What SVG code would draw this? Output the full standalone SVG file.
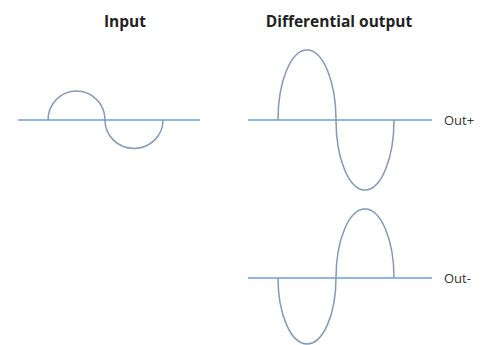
<svg xmlns="http://www.w3.org/2000/svg" width="493" height="345" viewBox="0 0 493 345">
<style>
.title{font-family:"Open Sans","Liberation Sans",sans-serif;font-weight:bold;font-size:15.5px;fill:#222}
.lbl{font-family:"Open Sans","Liberation Sans",sans-serif;font-size:13px;fill:#333}
.axis{stroke:#6a9fd8;stroke-width:1.5;fill:none}
.wave{stroke:#8399b8;stroke-width:1.5;fill:none}
</style>
<rect width="493" height="345" fill="#fff"/>
<g id="input">
<text class="title" x="125" y="27" text-anchor="middle">Input</text>
<line class="axis" x1="18" y1="120" x2="200" y2="120"/>
<path class="wave" d="M48,120 A28.5,29 0 0 1 105,120 A29,28.5 0 0 0 163,120"/>
</g>
<g id="outplus">
<text class="title" x="339" y="27" text-anchor="middle">Differential output</text>
<line class="axis" x1="248" y1="120" x2="432" y2="120"/>
<path class="wave" d="M278,120 A29,70 0 0 1 336,120 A29,70 0 0 0 394,120"/>
<text class="lbl" x="444" y="125">Out+</text>
</g>
<g id="outminus">
<line class="axis" x1="248" y1="278" x2="432" y2="278"/>
<path class="wave" d="M278,278 A29,66 0 0 0 336,278 A29,69 0 0 1 394,278"/>
<text class="lbl" x="444" y="283">Out-</text>
</g>
</svg>
